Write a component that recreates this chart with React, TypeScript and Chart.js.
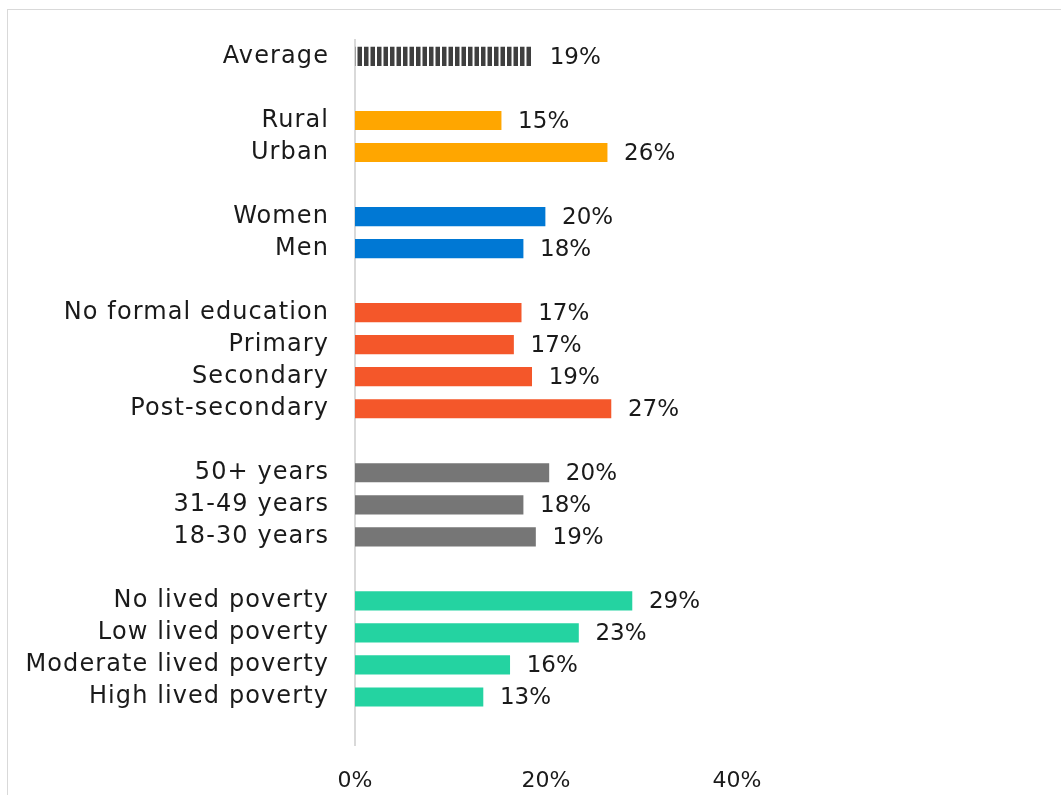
import { useEffect, useRef } from "react";
import { Chart, registerables } from "chart.js";

Chart.register(...registerables);

// blank entries are the gaps between groups
const categories = [
  "Average",
  "",
  "Rural",
  "Urban",
  "",
  "Women",
  "Men",
  "",
  "No formal education",
  "Primary",
  "Secondary",
  "Post-secondary",
  "",
  "50+ years",
  "31-49 years",
  "18-30 years",
  "",
  "No lived poverty",
  "Low lived poverty",
  "Moderate lived poverty",
  "High lived poverty",
  "",
];

const values = [
  18.6, null,
  15.3, 26.4, null,
  19.9, 17.6, null,
  17.4, 16.6, 18.5, 26.8, null,
  20.3, 17.6, 18.9, null,
  29.0, 23.4, 16.2, 13.4, null,
];

const groups = [
  "avg", "",
  "area", "area", "",
  "sex", "sex", "",
  "edu", "edu", "edu", "edu", "",
  "age", "age", "age", "",
  "pov", "pov", "pov", "pov", "",
];

const xTicks = [0, 20, 40];

const FONT = "'DejaVu Sans', sans-serif";

function makeStripes(): CanvasPattern | string {
  const c = document.createElement("canvas");
  c.width = 13;
  c.height = 4;
  const g = c.getContext("2d");
  if (!g) return "#404040";
  g.fillStyle = "#ffffff";
  g.fillRect(0, 0, 13, 4);
  g.fillStyle = "#3f3f3f";
  g.fillRect(0, 0, 4.5, 4);
  g.fillRect(6.5, 0, 4.5, 4);
  const p = g.createPattern(c, "repeat");
  return p || "#404040";
}

// wider letters for the category names, closer to the original's geometric face
const spacing = {
  id: "spacing",
  beforeDraw(chart: any) {
    chart.ctx.letterSpacing = "1.1px";
  },
};

const valueLabels = {
  id: "valueLabels",
  afterDatasetsDraw(chart: any) {
    const ctx = chart.ctx;
    // x tick labels are drawn after this (ticks.z = 1), without spacing
    ctx.letterSpacing = "0px";
    const meta = chart.getDatasetMeta(0);
    ctx.save();
    ctx.font = `23px ${FONT}`;
    ctx.fillStyle = "#1a1a1a";
    ctx.textAlign = "left";
    ctx.textBaseline = "middle";
    meta.data.forEach((bar: any, i: number) => {
      const v = values[i];
      if (v == null) return;
      ctx.fillText(`${Math.round(v)}%`, bar.x + 17, bar.y + 1.5);
    });
    ctx.restore();
  },
};

function App() {
  const chartRef = useRef<HTMLCanvasElement | null>(null);
  const chartInstanceRef = useRef<Chart | null>(null);

  useEffect(() => {
    if (!chartRef.current) return;
    const ctx = chartRef.current.getContext("2d");
    if (!ctx) return;

    const colors: Record<string, any> = {
      avg: makeStripes(),
      area: "#ffa600",
      sex: "#0078d4",
      edu: "#f4572a",
      age: "#767676",
      pov: "#24d3a1",
      "": "transparent",
    };

    if (chartInstanceRef.current) chartInstanceRef.current.destroy();

    chartInstanceRef.current = new Chart(ctx, {
      type: "bar",
      data: {
        labels: categories,
        datasets: [
          {
            data: values as any,
            backgroundColor: groups.map((g) => colors[g]),
            barThickness: 18.5,
          },
        ],
      },
      options: {
        indexAxis: "y",
        responsive: false,
        animation: false,
        layout: { padding: { top: 35.5, right: 324, bottom: 0, left: 0 } },
        plugins: {
          legend: { display: false },
          tooltip: { enabled: false },
        },
        scales: {
          x: {
            min: 0,
            max: 40,
            grid: { display: false, drawTicks: false },
            border: { display: false },
            afterBuildTicks: (scale: any) => {
              scale.ticks = xTicks.map((v) => ({ value: v }));
            },
            afterFit: (scale: any) => {
              scale.height = 50;
            },
            ticks: {
              z: 1,
              padding: 23,
              color: "#1a1a1a",
              font: { family: FONT, size: 22 },
              maxRotation: 0,
              callback: (v: any) => `${v}%`,
            },
          },
          y: {
            grid: { display: false, drawTicks: false },
            border: { display: true, color: "#d9d9d9", width: 2 },
            afterFit: (scale: any) => {
              scale.width = 355;
            },
            ticks: {
              autoSkip: false,
              padding: 26,
              color: "#1a1a1a",
              font: { family: FONT, size: 24 },
            },
          },
        },
      } as any,
      plugins: [spacing, valueLabels],
    });

    return () => {
      chartInstanceRef.current?.destroy();
      chartInstanceRef.current = null;
    };
  }, []);

  return (
    <div
      style={{
        position: "fixed",
        left: 0,
        top: 0,
        width: 1061,
        height: 795,
        overflow: "hidden",
        background: "#ffffff",
      }}
    >
      <div
        style={{
          position: "absolute",
          left: 7,
          top: 9,
          width: 1100,
          height: 820,
          border: "1px solid #d9d9d9",
        }}
      />
      <canvas
        ref={chartRef}
        width={1061}
        height={795}
        style={{ position: "absolute", left: 0, top: 0, width: 1061, height: 795 }}
      />
    </div>
  );
}

export default App;
